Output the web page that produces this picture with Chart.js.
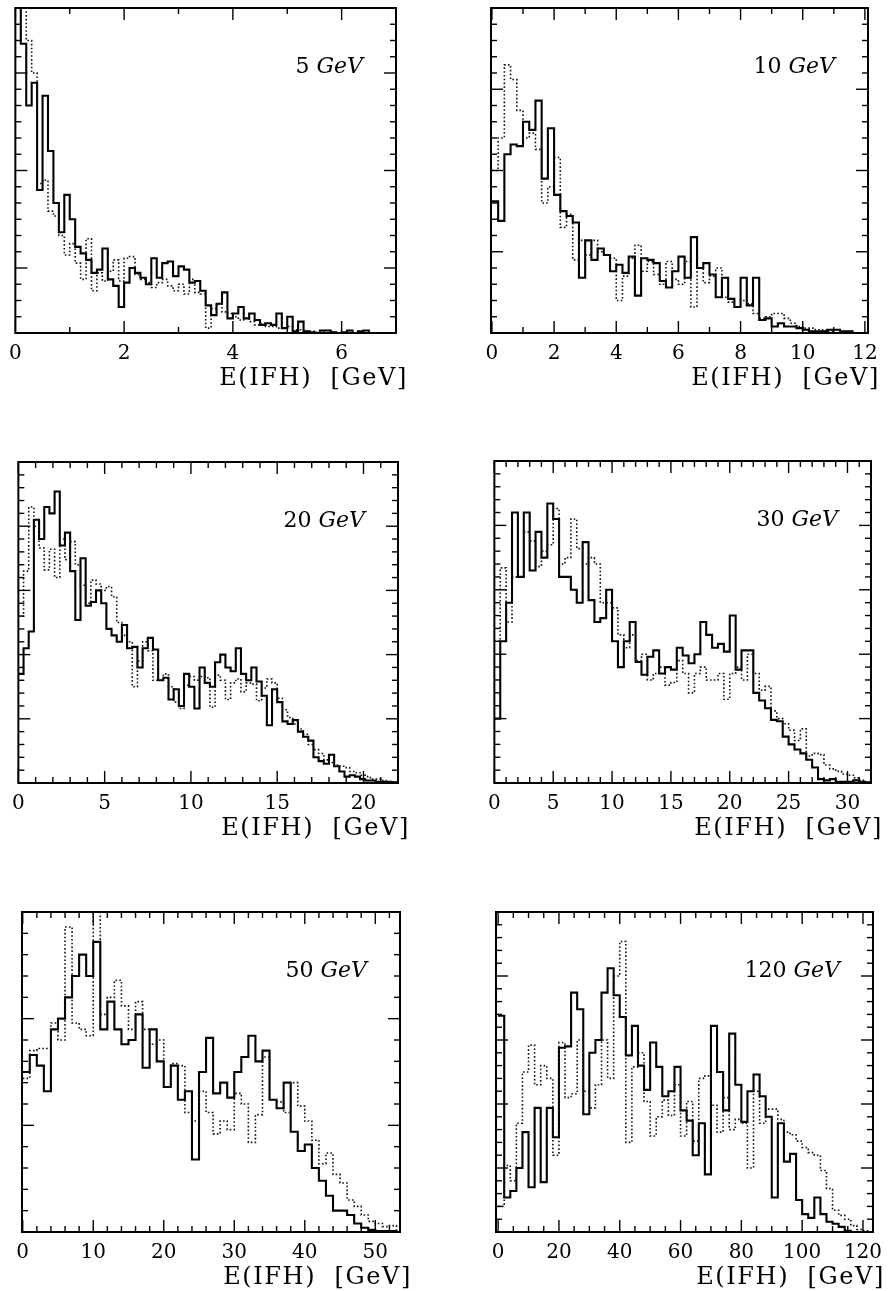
<!DOCTYPE html>
<html>
<head>
<meta charset="utf-8">
<title>E(IFH) spectra</title>
<script src="https://cdn.jsdelivr.net/npm/chart.js@4.4.1/dist/chart.umd.min.js"></script>
<style>
  html, body { margin: 0; padding: 0; background: #fff; overflow: hidden; }
  body { width: 893px; height: 1291px; position: relative; }
  canvas { position: absolute; }
</style>
</head>
<body>
<canvas id="p5"></canvas>
<canvas id="p10"></canvas>
<canvas id="p20"></canvas>
<canvas id="p30"></canvas>
<canvas id="p50"></canvas>
<canvas id="p120"></canvas>
<script>
/* global Chart */

// ── Data (bin contents, in y-tick units) ───────────────────────────────────

const bin5 = 0.1;
const solid5 = [21, 17.8, 14, 15.4, 8.8, 14.6, 11.2, 8, 6.2, 8.5, 7, 5.3, 4.9, 4.5, 3.7, 3.9, 5.2, 3.3, 2.9, 1.6,
  3.1, 4.0, 3.7, 3.4, 3.0, 4.6, 3.4, 4.3, 4.4, 3.5, 4.1, 3.9, 3.1, 3.2, 2.6, 1.7, 1.1, 1.8, 2.5, 0.9,
  1.2, 1.6, 0.9, 1.2, 0.8, 0.5, 0.6, 0.5, 1.2, 0.3, 1.0, 0.1, 0.7, 0.1, 0.05, 0, 0.15, 0.15, 0.05, 0,
  0.05, 0.15, 0, 0.1, 0.15, 0];
const dotted5 = [21, 21, 18, 16, 9.2, 9.4, 7.5, 7.2, 6, 4.8, 5.5, 4.3, 3.3, 5.8, 2.6, 3.7, 3.2, 3.8, 4.5, 3.2,
  4.6, 4.7, 3.6, 3.3, 3.1, 2.8, 3.1, 3.3, 2.9, 2.6, 3.0, 2.4, 3.3, 2.5, 2.4, 0.3, 1.5, 1.8, 1.3, 1.2,
  1.0, 0.8, 0.9, 0.7, 0.5, 0.6, 0.4, 0.4, 0.3, 0.3, 0.4, 0.2, 0.2, 0.1, 0.1, 0.05, 0.1, 0, 0.05, 0,
  0.05, 0, 0, 0, 0, 0];

const bin10 = 0.2;
const solid10 = [8.1, 6.9, 11, 11.6, 11.5, 13.0, 12.5, 14.3, 9.5, 12.6, 8.5, 7.5, 7.2, 6.8, 3.4, 5.7, 4.5, 5.2, 4.8, 3.8,
  4.2, 3.7, 4.7, 2.3, 4.6, 4.5, 4.3, 3.2, 2.8, 3.8, 4.7, 3.4, 5.9, 4.0, 4.3, 3.6, 2.2, 3.4, 2.1, 1.6,
  3.4, 1.7, 3.4, 0.8, 0.9, 0.4, 0.6, 0.4, 0.4, 0.3, 0.2, 0.1, 0.1, 0.1, 0.2, 0.2, 0.1, 0.1, 0, 0];
const dotted10 = [10, 12, 16.5, 15.6, 13.7, 12, 12.3, 11.3, 8, 9, 10.8, 6.5, 7.3, 4.5, 5.7, 4.8, 5.7, 5.0, 4.8, 4.6,
  2.0, 3.5, 4.6, 5.4, 3.8, 4.4, 3.6, 3.0, 4.4, 3.3, 3.0, 4.4, 1.6, 4.0, 3.1, 3.5, 4.0, 2.2, 1.9, 1.6,
  2.0, 1.8, 1.2, 0.9, 1.0, 1.2, 1.2, 0.9, 0.6, 0.4, 0.3, 0.3, 0.2, 0.2, 0.1, 0.2, 0.1, 0.1, 0, 0];

const bin20 = 0.3;
const solid20 = [8.5, 10.5, 11.8, 20.5, 19, 21.5, 21, 22.7, 18.5, 19.5, 16.5, 12.7, 17.5, 13.8, 14.1, 15, 14, 12, 11.5, 11,
  12.3, 10.5, 10.6, 9, 10.5, 11.3, 10.4, 8, 8.2, 6.5, 7.3, 6, 8.5, 7.5, 5.8, 9, 7.8, 7.5, 9.4, 10,
  9, 8.7, 10.5, 8.5, 8, 9, 7.9, 6.8, 4.5, 7.3, 6.3, 4.8, 4.6, 4.9, 4.0, 3.6, 3.3, 2.0, 1.7, 1.5,
  2.2, 1.3, 0.9, 0.5, 0.6, 0.5, 0.3, 0.2, 0.2, 0.1, 0.1, 0.1, 0.05];
const dotted20 = [13, 16.5, 21.5, 20, 18.3, 16.6, 18.2, 16, 19, 17.4, 18.8, 17, 15.4, 14, 15.8, 15.5, 15, 15.3, 14.5, 12.5,
  11.5, 11, 7.5, 9.5, 11, 10.3, 8, 8, 8.5, 7.5, 6.3, 5.8, 7.6, 8.3, 8, 8.3, 8.2, 5.9, 8.4, 8,
  6.5, 7.8, 8.1, 7.1, 7.8, 7.7, 6.4, 7.4, 8.1, 7.8, 6.6, 5.7, 5.1, 4.6, 4.2, 3.8, 3.0, 2.6, 2.3, 1.8,
  1.6, 1.4, 1.3, 1.2, 0.9, 0.8, 0.6, 0.5, 0.3, 0.3, 0.2, 0.1, 0.1];

const bin30 = 0.5;
const solid30 = [5, 11, 14, 21, 16, 21, 16.5, 19.5, 17.5, 21.7, 20.5, 16, 16, 15, 14, 18.7, 14.2, 12.5, 12.8, 15,
  11, 9, 11, 12.5, 9.4, 8.4, 9.8, 10.3, 8.5, 9, 8.8, 10.5, 9.9, 9.3, 10, 12.5, 11.5, 10.5, 10.8, 10.2,
  13, 8.8, 10.3, 10.3, 7, 6.4, 5.8, 4.9, 4.8, 3.6, 3.0, 2.6, 2.3, 1.8, 1.2, 0.3, 0.2, 0.3, 0.1, 0.1,
  0.1, 0.2, 0.1, 0.05];
const dotted30 = [11, 16.7, 12.5, 16, 16, 19.5, 18.8, 16.8, 18, 18.5, 21.3, 17, 17.5, 20.5, 18.2, 17, 17.5, 17, 14, 14,
  13.6, 11.5, 10.5, 11.5, 9.5, 10, 8, 8.5, 9, 7.6, 7.8, 9.5, 8.5, 7, 8.5, 9, 8, 8, 8.5, 6.5,
  8.5, 9, 8, 10, 8.5, 7.2, 7.5, 5.6, 5, 4.6, 4.1, 3.3, 4.2, 2.1, 2.3, 2.2, 1.4, 1.1, 0.9, 0.7,
  0.6, 0.4, 0.2, 0.1];

const bin50 = 1;
const solid50 = [7.5, 8.3, 7.8, 6.6, 9.5, 10, 11, 12, 13, 12, 13.6, 9.5, 10.8, 9.5, 8.8, 9, 10.2, 7.7, 9.5, 8,
  6.8, 7.8, 6.2, 6.6, 3.4, 7.5, 9.1, 6.5, 7, 6.3, 7.5, 8.2, 9.2, 8, 8.5, 6.2, 5.8, 7, 4.7, 3.8,
  4.1, 3, 2.4, 1.7, 1, 1, 0.8, 0.4, 0.2, 0.1, 0.05, 0.05, 0.05];
const dotted50 = [7.2, 8.5, 8.6, 8.6, 9.8, 9, 14.3, 9.8, 9.5, 9.2, 15.5, 10.2, 11, 11.8, 10.6, 9.5, 10.8, 9.5, 8.8, 9,
  6.8, 7.9, 7.8, 5.6, 5.2, 6.6, 5.6, 4.6, 5.2, 4.8, 6.5, 6, 4.2, 5.5, 8.2, 6.2, 6.1, 5.6, 7, 5.9,
  5.2, 4.3, 3.2, 3.7, 2.7, 2.3, 1.5, 1.2, 0.8, 0.5, 0.4, 0.25, 0.3];

const bin120 = 2;
const solid120 = [16.9, 2.7, 3.2, 5, 7.8, 3.5, 9.7, 3.9, 9.7, 7.4, 14.4, 14.5, 18.7, 17.4, 9.2, 14, 15, 18.7, 20.6, 18.5,
  16.8, 13.8, 16.1, 13, 11.1, 14.8, 12.9, 10.6, 11, 12.9, 9.5, 8.7, 6, 8.5, 4.5, 16.1, 12.5, 9.5, 15.5, 11.5,
  8.6, 11, 12.3, 10.6, 9, 2.7, 8.5, 5.5, 6.1, 2.5, 1.4, 1.1, 2.7, 1.4, 0.8, 0.65, 0.4, 0.1, 0, 0,
  0, 0];
const dotted120 = [2, 5.2, 4, 8.5, 12.5, 14.6, 11.5, 13, 12, 6, 14.8, 10.5, 10.8, 15, 11, 9.7, 11.5, 15, 12, 20,
  22.7, 7, 12.9, 14, 10.2, 7.5, 9, 10.3, 9.1, 11.5, 7.5, 10.2, 7.1, 12, 12.2, 9.9, 7.8, 10.5, 8, 8.8,
  8.5, 5, 11, 8.5, 9.6, 9.6, 8.8, 7.8, 7.6, 7.1, 6.6, 6.2, 6, 4.8, 3.4, 1.7, 1.3, 1.0, 0.5, 0.2,
  0.1, 0];

const xTitle = 'E(IFH)  [GeV]';

// ── Panel layout ───────────────────────────────────────────────────────────

const PAD = { left: 15, top: 8, right: 22, bottom: 4 };
const AXIS_H = 62;
const SERIF = '"DejaVu Serif", "Liberation Serif", serif';

const panels = [
  { id: 'p5',   energy: '5',   frame: [15, 8, 396, 333],    xMin: 0,     xMax: 7,     labelStep: 2,  minor: 1, major: 2,  yMax: 20, yMajor: [4, 10, 16], bin: bin5,   solid: solid5,   dotted: dotted5 },
  { id: 'p10',  energy: '10',  frame: [491, 8, 868, 333],   xMin: -0.03, xMax: 12.1,  labelStep: 2,  minor: 1, major: 2,  yMax: 20, yMajor: [5, 10, 15], bin: bin10,  solid: solid10,  dotted: dotted10 },
  { id: 'p20',  energy: '20',  frame: [18, 462, 398, 783],  xMin: 0,     xMax: 22,    labelStep: 5,  minor: 1, major: 5,  yMax: 25, yMajor: [5, 10, 15, 20], bin: bin20,  solid: solid20,  dotted: dotted20 },
  { id: 'p30',  energy: '30',  frame: [494, 461, 871, 783], xMin: 0,     xMax: 32,    labelStep: 5,  minor: 1, major: 5,  yMax: 25, yMajor: [5, 10, 15, 20], bin: bin30,  solid: solid30,  dotted: dotted30 },
  { id: 'p50',  energy: '50',  frame: [22, 912, 400, 1232], xMin: -0.1,  xMax: 53.5,  labelStep: 10, minor: 2, major: 10, yMax: 15, yMajor: [5, 10], bin: bin50,  solid: solid50,  dotted: dotted50 },
  { id: 'p120', energy: '120', frame: [496, 912, 873, 1232], xMin: -0.7, xMax: 123.3, labelStep: 20, minor: 5, major: 20, yMax: 25, yMajor: [5, 10, 15, 20], bin: bin120, solid: solid120, dotted: dotted120 },
];

// ── Helpers ────────────────────────────────────────────────────────────────

// left bin edges, stepped 'before' carries each value to the next edge
function steps(values, width) {
  const pts = values.map((v, i) => ({ x: i * width, y: v }));
  pts.push({ x: values.length * width, y: 0 });
  return pts;
}

function seg(ctx, x1, y1, x2, y2) {
  ctx.beginPath();
  ctx.moveTo(x1, y1);
  ctx.lineTo(x2, y2);
  ctx.stroke();
}

const isMultiple = (v, step) => Math.abs(v / step - Math.round(v / step)) < 1e-6;

// frame, inward ticks on all four sides, energy tag and axis title
const framePlugin = {
  id: 'frame',
  afterDraw(chart, args, opts) {
    const { ctx, chartArea: a } = chart;
    const { x, y } = chart.scales;
    ctx.save();
    ctx.strokeStyle = '#000';
    ctx.lineWidth = 1.4;

    for (let v = 0; v <= opts.yMax; v++) {
      const py = y.getPixelForValue(v);
      const len = opts.yMajor.includes(v) ? 12 : 6;
      seg(ctx, a.left, py, a.left + len, py);
      seg(ctx, a.right, py, a.right - len, py);
    }

    const first = Math.ceil(opts.xMin / opts.minor) * opts.minor;
    for (let v = first; v <= opts.xMax + 1e-9; v += opts.minor) {
      const px = x.getPixelForValue(v);
      const len = isMultiple(v, opts.major) ? 12 : 6;
      seg(ctx, px, a.bottom, px, a.bottom - len);
      seg(ctx, px, a.top, px, a.top + len);
    }

    ctx.lineWidth = 2;
    ctx.strokeRect(a.left, a.top, a.right - a.left, a.bottom - a.top);

    ctx.fillStyle = '#000';
    ctx.textBaseline = 'alphabetic';
    ctx.textAlign = 'right';

    // "5 GeV" tag, unit in italics
    const right = a.right - 33;
    const base = a.top + 65;
    ctx.font = 'italic 22px ' + SERIF;
    const unitW = ctx.measureText('GeV').width;
    ctx.fillText('GeV', right, base);
    ctx.font = '22px ' + SERIF;
    ctx.fillText(opts.energy + ' ', right - unitW, base);

    // axis title hangs a little past the frame, as in the print
    ctx.font = '24px ' + SERIF;
    if ('letterSpacing' in ctx) ctx.letterSpacing = '1.6px';
    ctx.fillText(xTitle, a.right + 12, a.bottom + 52);
    ctx.restore();
  },
};

// ── Charts ─────────────────────────────────────────────────────────────────

function buildPanel(p) {
  const [l, t, r, b] = p.frame;
  const canvas = document.getElementById(p.id);
  const w = (r - l) + PAD.left + PAD.right;
  const h = (b - t) + PAD.top + AXIS_H + PAD.bottom;
  canvas.width = w;
  canvas.height = h;
  canvas.style.left = (l - PAD.left) + 'px';
  canvas.style.top = (t - PAD.top) + 'px';
  canvas.style.width = w + 'px';
  canvas.style.height = h + 'px';

  return new Chart(canvas.getContext('2d'), {
    type: 'line',
    data: {
      datasets: [
        {
          data: steps(p.dotted, p.bin),
          stepped: 'before',
          borderColor: '#111',
          borderWidth: 1.6,
          borderDash: [1.6, 2.2],
          pointRadius: 0,
          fill: false,
        },
        {
          data: steps(p.solid, p.bin),
          stepped: 'before',
          borderColor: '#000',
          borderWidth: 2.1,
          pointRadius: 0,
          fill: false,
        },
      ],
    },
    options: {
      responsive: false,
      animation: false,
      devicePixelRatio: 1,
      parsing: false,
      layout: { padding: { left: PAD.left, top: PAD.top, right: PAD.right, bottom: PAD.bottom } },
      plugins: {
        legend: { display: false },
        tooltip: { enabled: false },
        frame: { energy: p.energy, yMax: p.yMax, yMajor: p.yMajor, xMin: p.xMin, xMax: p.xMax, minor: p.minor, major: p.major },
      },
      scales: {
        x: {
          type: 'linear',
          min: p.xMin,
          max: p.xMax,
          grid: { display: false, drawTicks: false },
          border: { display: false },
          ticks: {
            stepSize: p.labelStep,
            includeBounds: false,
            autoSkip: false,
            maxRotation: 0,
            padding: 9,
            color: '#000',
            font: { family: SERIF, size: 20 },
          },
          afterFit(scale) { scale.height = AXIS_H; },
        },
        y: {
          display: false,
          min: 0,
          max: p.yMax,
        },
      },
    },
    plugins: [framePlugin],
  });
}

panels.forEach(buildPanel);
</script>
</body>
</html>
